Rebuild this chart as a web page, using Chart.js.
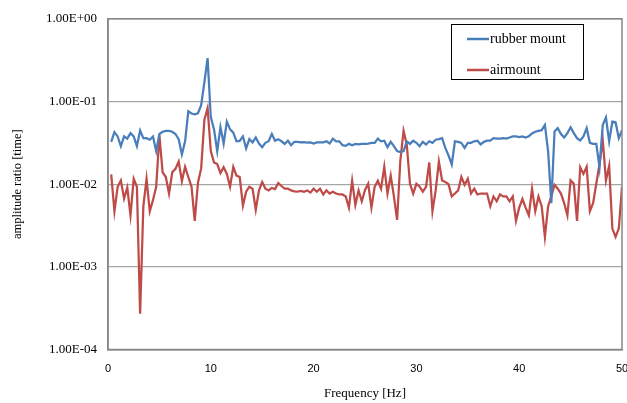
<!DOCTYPE html>
<html lang="en">
<head>
    <meta charset="UTF-8">
    <title>Amplitude ratio vs frequency</title>
    <script src="https://cdn.jsdelivr.net/npm/chart.js"></script>
    <style>
        body {
            margin: 0;
            background: #fff;
        }
        #wrap {
            width: 627px;
            height: 403px;
        }
    </style>
</head>
<body>
<div id="wrap"><canvas id="ratioChart" width="627" height="403"></canvas></div>
<script>
    // frequency bins (Hz), 0.3125 Hz resolution
    const freqStep = 0.3125;
    const frequencies = Array.from({ length: 160 }, (_, i) => (i + 1) * freqStep);

    const seriesLabels = ['rubber mount', 'airmount'];

    const rubberMount = [
        0.0325, 0.0426, 0.0378, 0.0288, 0.0378, 0.0355, 0.0414, 0.0378, 0.0288, 0.0445,
        0.036, 0.036, 0.0345, 0.0378, 0.0251, 0.0404, 0.043, 0.0441, 0.0441, 0.043,
        0.0404, 0.035, 0.0229, 0.033, 0.076, 0.0715, 0.070, 0.072, 0.09, 0.17,
        0.334, 0.065, 0.046, 0.0251, 0.049, 0.031, 0.057, 0.046, 0.042, 0.033,
        0.0333, 0.0378, 0.027, 0.035, 0.032, 0.0367, 0.031, 0.028, 0.0316, 0.033,
        0.0404, 0.0335, 0.035, 0.033, 0.0307, 0.0335, 0.0296, 0.0325, 0.0325, 0.032,
        0.0322, 0.0318, 0.032, 0.031, 0.032, 0.032, 0.032, 0.033, 0.031, 0.0355,
        0.033, 0.033, 0.0296, 0.029, 0.0307, 0.0296, 0.0307, 0.0302, 0.0307, 0.0307,
        0.031, 0.0316, 0.0316, 0.0355, 0.033, 0.0335, 0.028, 0.0325, 0.0288, 0.0251,
        0.0244, 0.0251, 0.033, 0.0307, 0.0335, 0.0316, 0.0288, 0.0325, 0.0302, 0.033,
        0.0316, 0.0345, 0.035, 0.036, 0.0275, 0.0223, 0.0173, 0.033, 0.0325, 0.0316,
        0.0275, 0.0316, 0.0316, 0.033, 0.0335, 0.0302, 0.0325, 0.0335, 0.0335, 0.036,
        0.0355, 0.0355, 0.036, 0.0355, 0.0367, 0.0378, 0.0378, 0.037, 0.0378, 0.0367,
        0.038, 0.041, 0.043, 0.0441, 0.045, 0.052, 0.025, 0.0059, 0.0433, 0.0475,
        0.0404, 0.0367, 0.0414, 0.0487, 0.0414, 0.036, 0.0337, 0.0378, 0.0475, 0.0316,
        0.0307, 0.0307, 0.016, 0.052, 0.064, 0.033, 0.057, 0.056, 0.036, 0.045
    ];

    const airmount = [
        0.0131, 0.0047, 0.0093, 0.0111, 0.0067, 0.0091, 0.0042, 0.0116, 0.0093, 0.00027,
        0.0054, 0.0116, 0.0047, 0.0064, 0.0093, 0.0389, 0.0139, 0.0122, 0.0077, 0.0139,
        0.0153, 0.0188, 0.0109, 0.0162, 0.0122, 0.0093, 0.0036, 0.0104, 0.0155, 0.06,
        0.0833, 0.0251, 0.0183, 0.0175, 0.0136, 0.016, 0.0133, 0.0093, 0.0162, 0.0127,
        0.0122, 0.0055, 0.0081, 0.0093, 0.0088, 0.0049, 0.0084, 0.0106, 0.0088, 0.0084,
        0.0090, 0.0087, 0.0103, 0.0095, 0.0088, 0.0088, 0.0084, 0.0082, 0.0081, 0.0083,
        0.0081, 0.0084, 0.0079, 0.0088, 0.0081, 0.0088, 0.0075, 0.0084, 0.0077, 0.0081,
        0.0077, 0.0075, 0.0075, 0.0071, 0.0052, 0.011, 0.0056, 0.0084, 0.0062, 0.0085,
        0.0101, 0.0052, 0.0093, 0.011, 0.0088, 0.0162, 0.0077, 0.0127, 0.0071, 0.0037,
        0.0193, 0.0441, 0.0302, 0.0101, 0.0077, 0.0101, 0.0093, 0.0081, 0.0093, 0.0183,
        0.0047, 0.0084, 0.0188, 0.0111, 0.0106, 0.0100, 0.0071, 0.0077, 0.0084, 0.0122,
        0.0098, 0.0116, 0.0077, 0.0088, 0.0075, 0.0077, 0.0077, 0.0077, 0.0054, 0.0071,
        0.0062, 0.0075, 0.0071, 0.0071, 0.0062, 0.0071, 0.0036, 0.0052, 0.0066, 0.0052,
        0.0042, 0.0088, 0.0047, 0.0071, 0.0054, 0.0023, 0.0054, 0.0071, 0.0098, 0.0088,
        0.0077, 0.0059, 0.0042, 0.0111, 0.0101, 0.0036, 0.016, 0.0133, 0.0162, 0.0047,
        0.0059, 0.0101, 0.0175, 0.0345, 0.0111, 0.0166, 0.0029, 0.0023, 0.0029, 0.0093
    ];

    const yTicks = [1e-4, 1e-3, 1e-2, 1e-1, 1];
    const xTicks = [0, 10, 20, 30, 40, 50];

    const colors = ['#4a7ebb', '#be4b48'];
    const frameColor = '#868686';

    // 1.00E-02 style labels
    function sciLabel(v) {
        const e = Math.round(Math.log10(v));
        return '1.00E' + (e < 0 ? '-' : '+') + String(Math.abs(e)).padStart(2, '0');
    }

    // plot frame + boxed legend like the spreadsheet original
    const frameAndLegend = {
        id: 'frameAndLegend',
        afterDraw(chart) {
            const { ctx, chartArea: a } = chart;
            ctx.save();
            ctx.strokeStyle = frameColor;
            ctx.lineWidth = 1.5;
            ctx.strokeRect(a.left, a.top, a.right - a.left, a.bottom - a.top);

            ctx.fillStyle = '#fff';
            ctx.fillRect(451, 24, 133, 55);
            ctx.strokeStyle = '#000';
            ctx.lineWidth = 1;
            ctx.strokeRect(451.5, 24.5, 132, 55);

            ctx.font = '14px "Liberation Serif", serif';
            ctx.textBaseline = 'middle';
            chart.data.datasets.forEach((ds, i) => {
                const y = 39 + i * 31;
                ctx.strokeStyle = ds.borderColor;
                ctx.lineWidth = 2.5;
                ctx.beginPath();
                ctx.moveTo(467, y);
                ctx.lineTo(489, y);
                ctx.stroke();
                ctx.fillStyle = '#000';
                ctx.fillText(ds.label, 490, y);
            });
            ctx.restore();
        }
    };

    const makePoints = vals => frequencies.map((f, i) => ({ x: f, y: vals[i] }));

    const ctx = document.getElementById('ratioChart').getContext('2d');
    new Chart(ctx, {
        type: 'line',
        data: {
            datasets: [
                {
                    label: seriesLabels[0],
                    data: makePoints(rubberMount),
                    borderColor: colors[0],
                    backgroundColor: colors[0],
                    borderWidth: 2.25,
                    pointRadius: 0,
                    tension: 0
                },
                {
                    label: seriesLabels[1],
                    data: makePoints(airmount),
                    borderColor: colors[1],
                    backgroundColor: colors[1],
                    borderWidth: 2.25,
                    pointRadius: 0,
                    tension: 0
                }
            ]
        },
        options: {
            responsive: false,
            animation: false,
            layout: {
                padding: { left: 0, right: 5, top: 11.5, bottom: 0 }
            },
            plugins: {
                legend: { display: false },
                tooltip: { enabled: false }
            },
            scales: {
                x: {
                    type: 'linear',
                    min: 0,
                    max: 50,
                    afterBuildTicks: scale => {
                        scale.ticks = xTicks.map(v => ({ value: v }));
                    },
                    afterFit: scale => {
                        scale.height = 53.5;
                        scale.paddingRight = 0;
                        scale.paddingLeft = 0;
                    },
                    grid: { display: false, drawTicks: false },
                    border: { display: true, color: frameColor, width: 1.5 },
                    ticks: {
                        padding: 13,
                        maxRotation: 0,
                        color: '#000',
                        font: { family: '"Liberation Sans", Arial, sans-serif', size: 11 }
                    },
                    title: {
                        display: true,
                        text: 'Frequency [Hz]',
                        color: '#000',
                        padding: { top: 0, bottom: 2 },
                        font: { family: '"Liberation Serif", serif', size: 13 }
                    }
                },
                y: {
                    type: 'logarithmic',
                    min: 1e-4,
                    max: 1,
                    afterBuildTicks: scale => {
                        scale.ticks = yTicks.map(v => ({ value: v }));
                    },
                    afterFit: scale => {
                        scale.width = 108;
                    },
                    grid: { color: '#a6a6a6', lineWidth: 1.25, drawTicks: false },
                    border: { display: true, color: frameColor, width: 1.5 },
                    ticks: {
                        padding: 11,
                        color: '#000',
                        font: { family: '"Liberation Serif", serif', size: 13 },
                        callback: v => sciLabel(v)
                    },
                    title: {
                        display: true,
                        text: 'amplitude ratio [time]',
                        color: '#000',
                        padding: { top: 10, bottom: 0 },
                        font: { family: '"Liberation Serif", serif', size: 12.5 }
                    }
                }
            }
        },
        plugins: [frameAndLegend]
    });
</script>
</body>
</html>
